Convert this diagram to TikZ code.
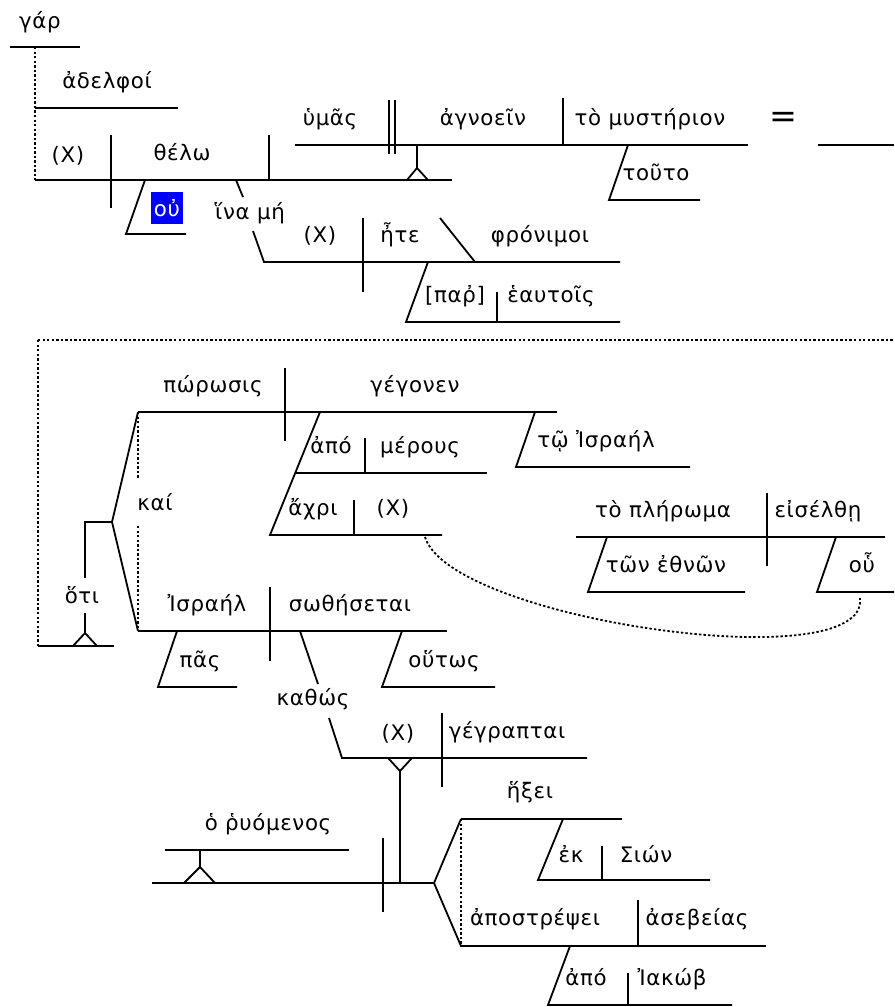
\documentclass[tikz,border=0pt]{standalone}
\usepackage{fontspec}
\setmainfont{DejaVu Sans}[LetterSpace=3]
\usetikzlibrary{positioning}

\begin{document}
\begin{tikzpicture}[
  x=0.75pt, y=-0.75pt,
  line width=1.35pt,
  font=\fontsize{16}{18}\selectfont,
  wd/.style={anchor=base, inner sep=0pt},
  dotln/.style={dash pattern=on 1.8pt off 1.6pt},
  hl/.style={fill=blue, text=white, inner sep=0pt, minimum width=23.5pt, minimum height=24.5pt}
]
\useasboundingbox (0,0) rectangle (894,1007);
% first sentence
\node[wd] (gar) at (40,28) {γάρ};
\node[wd] (adelphoi) at (107,88) {ἀδελφοί};
\node[wd] (xa) at (68,162) {(X)};
\node[wd] (thelo) at (182,160) {θέλω};
\node[hl] (ou) at (167,208) {οὐ};
\node[wd] (hina) at (250,219) {ἵνα μή};
\node[wd] (hymas) at (330,125) {ὑμᾶς};
\node[wd] (agnoein) at (483,125) {ἀγνοεῖν};
\node[wd] (myst) at (650,125) {τὸ μυστήριον};
\node[wd, font=\fontsize{25}{27}\selectfont] (eq) at (783,127) {=};
\node[wd] (touto) at (656,180) {τοῦτο};
\node[wd] (xb) at (320,242) {(X)};
\node[wd] (ete) at (400,242) {ἦτε};
\node[wd] (phron) at (540,242) {φρόνιμοι};
\node[wd] (par) at (455,302) {[παῤ]};
\node[wd] (heautois) at (551,302) {ἑαυτοῖς};
\draw (10,47) -- (80,47);
\draw[dotln] (35,47) -- (35,180);
\draw (35,108) -- (178,108);
\draw (35,180) -- (452,180);
\draw (111,135) -- (111,208);
\draw (269,135) -- (269,180);
\draw (145,180) -- (126,234) -- (186,234);
\draw (236,180) -- (243,197);
\draw (253,231) -- (264,262) -- (620,262);
\draw (295,145) -- (748,145);
\draw (389,100) -- (389,154);
\draw (395,100) -- (395,154);
\draw (417,145) -- (417,168);
\draw (407,180) -- (417,168) -- (428,180);
\draw (563,98) -- (563,145);
\draw (818,145) -- (894,145);
\draw (628,145) -- (609,200) -- (700,200);
\draw (363,218) -- (363,292);
\draw (440,218) -- (475,262);
\draw (428,262) -- (406,322) -- (620,322);
\draw (497,292) -- (497,322);
% second sentence
\draw[dotln] (38,340) -- (894,340);
\draw[dotln] (38,340) -- (38,646);
\draw (38,646) -- (114,646);
\draw (73,646) -- (85,633) -- (97,646);
\draw (85,633) -- (85,613);
\node[wd] (hoti) at (82,603) {ὅτι};
\draw (85,578) -- (85,522) -- (112,522);
\draw (138,412) -- (112,522) -- (138,631);
\draw[dotln] (138,412) -- (138,478);
\draw[dotln] (138,526) -- (138,631);
\node[wd] (kai) at (155,510) {καί};
\node[wd] (porosis) at (213,392) {πώρωσις};
\node[wd] (gegonen) at (415,392) {γέγονεν};
\draw (138,412) -- (557,412);
\draw (285,368) -- (285,441);
\draw (320,412) -- (270,535) -- (442,535);
\draw (295,473) -- (487,473);
\draw (365,438) -- (365,473);
\node[wd] (apo) at (331,453) {ἀπό};
\node[wd] (merous) at (420,453) {μέρους};
\draw (354,500) -- (354,535);
\node[wd] (achri) at (313,515) {ἄχρι};
\node[wd] (xc) at (393,515) {(X)};
\draw (535,412) -- (516,467) -- (690,467);
\node[wd] (israel) at (596,447) {τῷ Ἰσραήλ};
\draw[dotln] (425,537) .. controls (450,620) and (870,680) .. (860,598);
\node[wd] (pleroma) at (663,517) {τὸ πλήρωμα};
\node[wd] (eiselthe) at (818,517) {εἰσέλθῃ};
\draw (576,537) -- (885,537);
\draw (767,493) -- (767,566);
\draw (607,537) -- (588,592) -- (745,592);
\node[wd] (ethnon) at (666,572) {τῶν ἐθνῶν};
\draw (836,537) -- (817,592) -- (894,592);
\node[wd] (hou) at (862,572) {οὗ};
\node[wd] (israelb) at (207,611) {Ἰσραήλ};
\node[wd] (sothesetai) at (350,611) {σωθήσεται};
\draw (138,631) -- (447,631);
\draw (270,587) -- (270,661);
\draw (177,631) -- (158,687) -- (237,687);
\node[wd] (pas) at (200,667) {πᾶς};
\draw (402,631) -- (382,687) -- (495,687);
\node[wd] (houtos) at (444,667) {οὕτως};
\draw (300,631) -- (318,684);
\node[wd] (kathos) at (313,705) {καθώς};
\draw (329,718) -- (342,758) -- (587,758);
\node[wd] (xd) at (398,740) {(X)};
\node[wd] (gegraptai) at (507,738) {γέγραπται};
\draw (442,713) -- (442,787);
\draw (388,758) -- (400,771) -- (412,758);
\draw (400,771) -- (400,883);
\node[wd] (rhyomenos) at (268,830) {ὁ ῥυόμενος};
\draw (165,850) -- (349,850);
\draw (200,850) -- (200,867);
\draw (184,883) -- (200,867) -- (215,883);
\draw (152,883) -- (434,883);
\draw (383,838) -- (383,912);
\draw (461,819) -- (434,883) -- (461,946);
\draw[dotln] (461,819) -- (461,946);
\draw (461,819) -- (622,819);
\node[wd] (hexei) at (530,798) {ἥξει};
\draw (563,819) -- (538,880) -- (710,880);
\draw (602,846) -- (602,880);
\node[wd] (ek) at (571,862) {ἐκ};
\node[wd] (sion) at (646,862) {Σιών};
\draw (461,946) -- (766,946);
\draw (638,900) -- (638,946);
\node[wd] (apostrepsei) at (535,925) {ἀποστρέψει};
\node[wd] (asebeias) at (697,925) {ἀσεβείας};
\draw (570,946) -- (548,1005) -- (732,1005);
\draw (628,973) -- (628,1005);
\node[wd] (apob) at (586,985) {ἀπό};
\node[wd] (iakob) at (672,985) {Ἰακώβ};
\end{tikzpicture}
\end{document}
